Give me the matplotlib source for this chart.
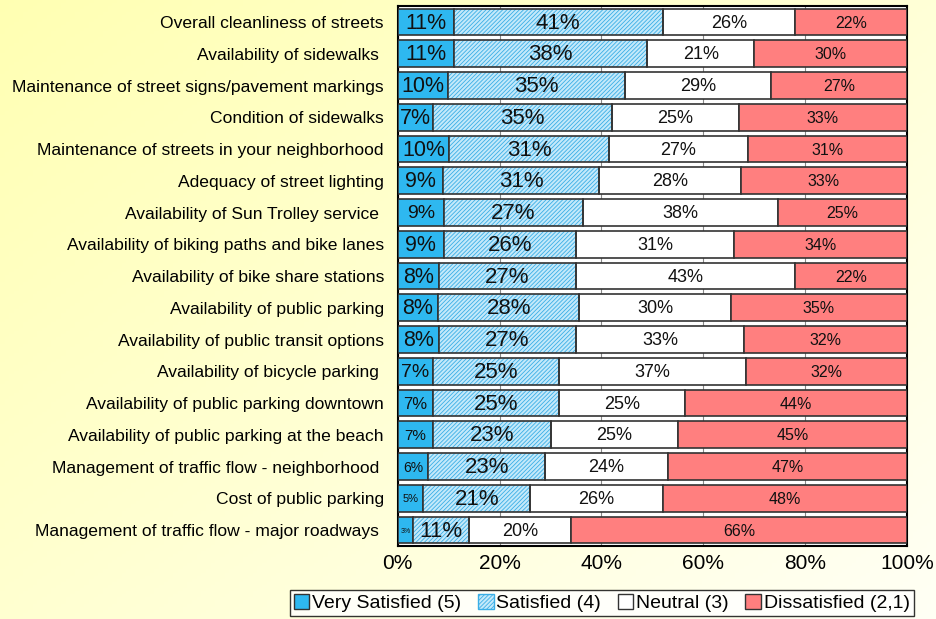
import numpy as np
import matplotlib
matplotlib.use("Agg")
import matplotlib.pyplot as plt
from matplotlib.patches import Patch

plt.rcParams['font.family'] = ['Liberation Sans', 'DejaVu Sans']
plt.rcParams['hatch.linewidth'] = 0.6

categories = [
    "Overall cleanliness of streets",
    "Availability of sidewalks ",
    "Maintenance of street signs/pavement markings",
    "Condition of sidewalks",
    "Maintenance of streets in your neighborhood",
    "Adequacy of street lighting",
    "Availability of Sun Trolley service ",
    "Availability of biking paths and bike lanes",
    "Availability of bike share stations",
    "Availability of public parking",
    "Availability of public transit options",
    "Availability of bicycle parking ",
    "Availability of public parking downtown",
    "Availability of public parking at the beach",
    "Management of traffic flow - neighborhood ",
    "Cost of public parking",
    "Management of traffic flow - major roadways ",
]
very_satisfied = [11, 11, 10, 7, 10, 9, 9, 9, 8, 8, 8, 7, 7, 7, 6, 5, 3]
satisfied      = [41, 38, 35, 35, 31, 31, 27, 26, 27, 28, 27, 25, 25, 23, 23, 21, 11]
neutral        = [26, 21, 29, 25, 27, 28, 38, 31, 43, 30, 33, 37, 25, 25, 24, 26, 20]
dissatisfied   = [22, 30, 27, 33, 31, 33, 25, 34, 22, 35, 32, 32, 44, 45, 47, 48, 66]
series_names = ["Very Satisfied (5)", "Satisfied (4)", "Neutral (3)", "Dissatisfied (2,1)"]
x_ticks = [0, 20, 40, 60, 80, 100]

# style
vs_label_sizes = [15.5, 15.5, 15.5, 15.5, 15.5, 15.5, 14, 15.5, 15.5, 15.5, 15.5, 14, 12, 11, 10, 8, 5]
seg_colors = ['#2EB8F0', '#C4E9FA', 'white', '#FF7F7F']
seg_hatch = [None, '////////', None, None]
hatch_color = '#3AAEE6'
seg_text_sizes = [None, 16, 13, 11.5]
edge = '#333333'

fig = plt.figure(figsize=(9.36, 6.19), dpi=100)

# background gradient
bg = fig.add_axes([0, 0, 1, 1], zorder=-10)
yy, xx = np.mgrid[0:1:200j, 0:1:200j]
t = np.clip(0.55 * xx + 0.45 * yy, 0, 1)
c0 = np.array([1.0, 1.0, 0.70])
c1 = np.array([1.0, 1.0, 0.96])
img = c0[None, None, :] * (1 - t[..., None]) + c1[None, None, :] * t[..., None]
bg.imshow(img, aspect='auto', extent=[0, 1, 0, 1], origin='upper')
bg.axis('off')

ax = fig.add_axes([0.425, 0.118, 0.544, 0.872])
ax.set_facecolor('white')

data = np.array([very_satisfied, satisfied, neutral, dissatisfied], dtype=float)
totals = data.sum(axis=0)
frac = data / totals * 100

n = len(categories)
y = np.arange(n)
left = np.zeros(n)
for k in range(4):
    if seg_hatch[k]:
        ax.barh(y, frac[k], left=left, height=0.84, color=seg_colors[k],
                hatch=seg_hatch[k], edgecolor=hatch_color, linewidth=0, zorder=3)
        ax.barh(y, frac[k], left=left, height=0.84, fill=False,
                edgecolor=edge, linewidth=1.2, zorder=4)
    else:
        ax.barh(y, frac[k], left=left, height=0.84, color=seg_colors[k],
                edgecolor=edge, linewidth=1.2, zorder=3)
    for i in range(n):
        cx = left[i] + frac[k][i] / 2
        fs = vs_label_sizes[i] if k == 0 else seg_text_sizes[k]
        ax.text(cx, y[i] + 0.03, f"{int(data[k][i])}%", ha='center', va='center',
                fontsize=fs, color='#111111', zorder=5)
    left += frac[k]

ax.set_xlim(0, 100)
ax.set_ylim(n - 0.5, -0.5)
ax.set_yticks(y)
ax.set_yticklabels(categories, fontsize=12.6)
ax.set_xticks(x_ticks)
ax.set_xticklabels([f"{v}%" for v in x_ticks], fontsize=15)
ax.tick_params(axis='y', length=0, pad=10)
ax.tick_params(axis='x', length=0, pad=6)
ax.xaxis.grid(True, color='#888888', linewidth=0.8, zorder=0)
ax.set_axisbelow(True)
for s in ax.spines.values():
    s.set_linewidth(1.5)
    s.set_color('black')

handles = [Patch(facecolor=seg_colors[k], hatch=seg_hatch[k], edgecolor=edge,
                 label=series_names[k]) for k in range(4)]
leg = fig.legend(handles=handles, loc='center', bbox_to_anchor=(0.643, 0.026),
                 ncol=4, fontsize=14, frameon=True, fancybox=False, edgecolor='black',
                 handlelength=0.8, handleheight=0.8, handletextpad=0.15, columnspacing=0.85,
                 borderpad=0.2, borderaxespad=0)
leg.get_frame().set_linewidth(1.0)
for h in leg.legend_handles:
    if h.get_hatch():
        h.set_edgecolor(hatch_color)

fig.savefig("out.png", dpi=100)
